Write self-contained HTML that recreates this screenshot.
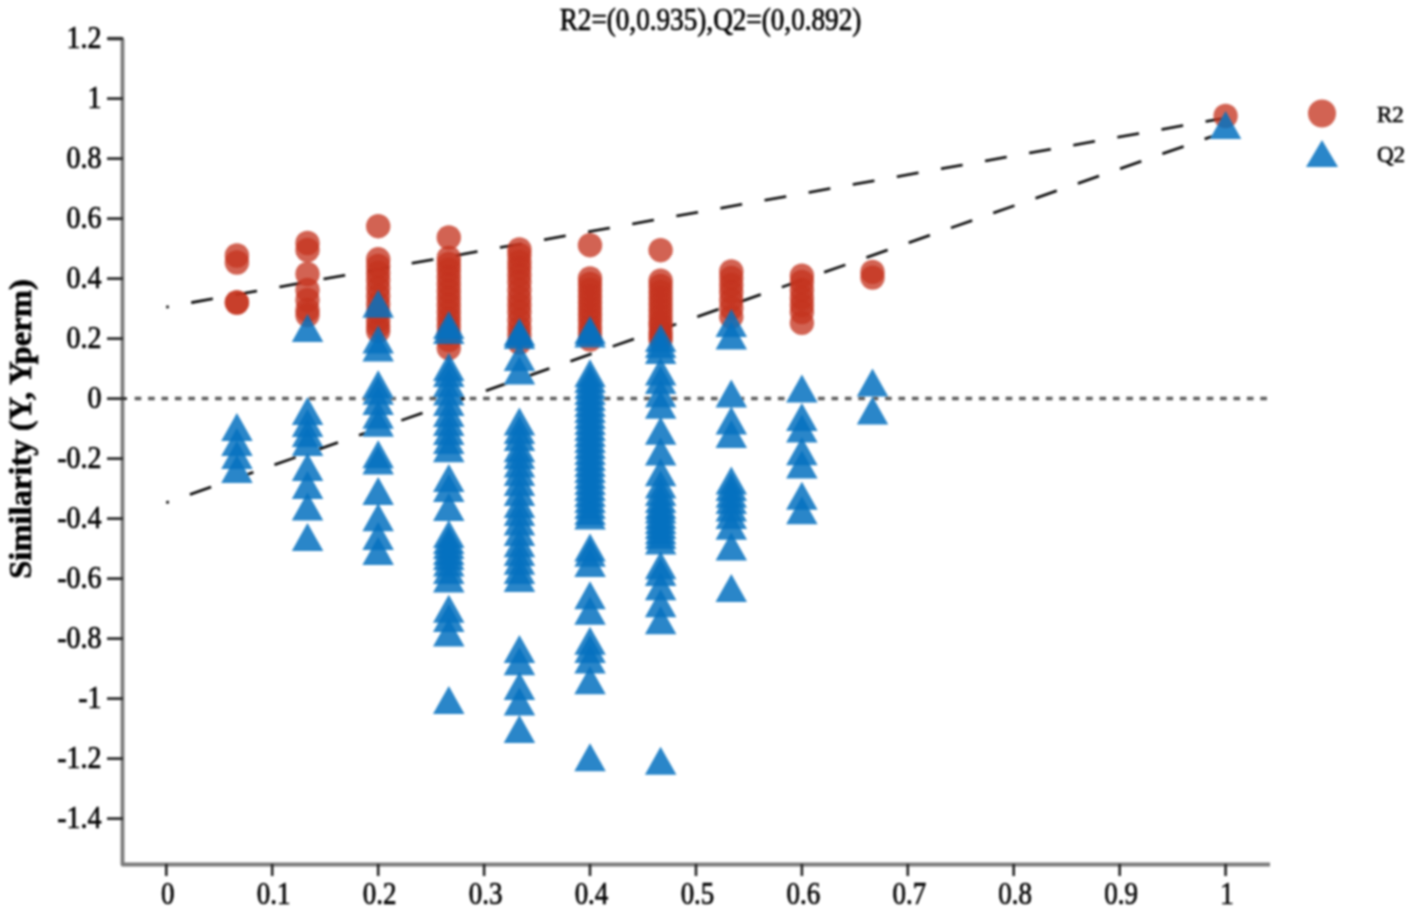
<!DOCTYPE html>
<html><head><meta charset="utf-8"><title>Permutation test</title>
<style>html,body{margin:0;padding:0;background:#fff;}svg{display:block;}#c{filter:blur(0.8px);width:1417px;height:916px;}text{stroke:#000;stroke-width:0.6px;}</style>
</head><body>
<div id="c"><svg width="1417" height="916" viewBox="0 0 1417 916"><path d="M108 38.6 H121 Q122.5 38.6 122.5 40.1 V864.5 H1270" fill="none" stroke="#7a7a7a" stroke-width="3.8" stroke-linejoin="round"/>
<path d="M107 818.6H123M107 758.6H123M107 698.6H123M107 638.6H123M107 578.6H123M107 518.6H123M107 458.6H123M107 398.6H123M107 338.6H123M107 278.6H123M107 218.6H123M107 158.6H123M107 98.6H123M107 38.6H123" stroke="#2a2a2a" stroke-width="2.8"/>
<g font-family="Liberation Serif, serif" font-size="28" text-anchor="end" fill="#000"><text transform="translate(101.5 827.9) scale(1 1.16)">-1.4</text><text transform="translate(101.5 767.9) scale(1 1.16)">-1.2</text><text transform="translate(101.5 707.9) scale(1 1.16)">-1</text><text transform="translate(101.5 647.9) scale(1 1.16)">-0.8</text><text transform="translate(101.5 587.9) scale(1 1.16)">-0.6</text><text transform="translate(101.5 527.9) scale(1 1.16)">-0.4</text><text transform="translate(101.5 467.9) scale(1 1.16)">-0.2</text><text transform="translate(101.5 407.9) scale(1 1.16)">0</text><text transform="translate(101.5 347.9) scale(1 1.16)">0.2</text><text transform="translate(101.5 287.9) scale(1 1.16)">0.4</text><text transform="translate(101.5 227.9) scale(1 1.16)">0.6</text><text transform="translate(101.5 167.9) scale(1 1.16)">0.8</text><text transform="translate(101.5 107.9) scale(1 1.16)">1</text><text transform="translate(101.5 47.9) scale(1 1.16)">1.2</text></g>
<path d="M166.3 864V876M272.2 864V876M378.2 864V876M484.1 864V876M590.0 864V876M696.0 864V876M801.9 864V876M907.8 864V876M1013.7 864V876M1119.7 864V876M1225.6 864V876" stroke="#222" stroke-width="2.6"/>
<g font-family="Liberation Serif, serif" font-size="27" text-anchor="middle" fill="#000"><text transform="translate(167.8 903.5) scale(1 1.16)">0</text><text transform="translate(273.7 903.5) scale(1 1.16)">0.1</text><text transform="translate(379.7 903.5) scale(1 1.16)">0.2</text><text transform="translate(485.6 903.5) scale(1 1.16)">0.3</text><text transform="translate(591.5 903.5) scale(1 1.16)">0.4</text><text transform="translate(697.5 903.5) scale(1 1.16)">0.5</text><text transform="translate(803.4 903.5) scale(1 1.16)">0.6</text><text transform="translate(909.3 903.5) scale(1 1.16)">0.7</text><text transform="translate(1015.2 903.5) scale(1 1.16)">0.8</text><text transform="translate(1121.2 903.5) scale(1 1.16)">0.9</text><text transform="translate(1227.1 903.5) scale(1 1.16)">1</text></g>
<line x1="134.7" y1="398.5" x2="1269" y2="398.5" stroke="#5a5a5a" stroke-width="3.6" stroke-dasharray="6.6 6.8"/><path d="M122 398.6H127" stroke="#2a2a2a" stroke-width="2.8"/>
<line x1="166.3" y1="307.1" x2="1225.6" y2="118" stroke="#000" stroke-width="2.6" stroke-dasharray="22 22.8" stroke-dashoffset="19.5"/>
<line x1="166.3" y1="502.7" x2="1225.6" y2="131.7" stroke="#000" stroke-width="2.6" stroke-dasharray="22.5 22.3" stroke-dashoffset="19.8"/>
<path fill="#fff" d="M236.9 413.0L252.7 441.0H221.2ZM236.9 428.0L252.7 456.0H221.2ZM236.9 441.0L252.7 469.0H221.2ZM236.9 455.0L252.7 483.0H221.2ZM307.5 314.0L323.3 342.0H291.8ZM307.5 397.0L323.3 425.0H291.8ZM307.5 409.0L323.3 437.0H291.8ZM307.5 419.0L323.3 447.0H291.8ZM307.5 428.0L323.3 456.0H291.8ZM307.5 453.0L323.3 481.0H291.8ZM307.5 471.0L323.3 499.0H291.8ZM307.5 492.5L323.3 520.5H291.8ZM307.5 523.0L323.3 551.0H291.8ZM378.2 289.8L393.9 317.8H362.4ZM378.2 325.5L393.9 353.5H362.4ZM378.2 333.5L393.9 361.5H362.4ZM378.2 370.3L393.9 398.3H362.4ZM378.2 376.7L393.9 404.7H362.4ZM378.2 387.0L393.9 415.0H362.4ZM378.2 400.8L393.9 428.8H362.4ZM378.2 408.8L393.9 436.8H362.4ZM378.2 440.2L393.9 468.2H362.4ZM378.2 446.6L393.9 474.6H362.4ZM378.2 477.0L393.9 505.0H362.4ZM378.2 503.3L393.9 531.3H362.4ZM378.2 522.0L393.9 550.0H362.4ZM378.2 537.0L393.9 565.0H362.4ZM448.8 311.0L464.5 339.0H433.0ZM448.8 316.0L464.5 344.0H433.0ZM448.8 353.0L464.5 381.0H433.0ZM448.8 359.0L464.5 387.0H433.0ZM448.8 369.0L464.5 397.0H433.0ZM448.8 377.5L464.5 405.5H433.0ZM448.8 388.0L464.5 416.0H433.0ZM448.8 399.0L464.5 427.0H433.0ZM448.8 408.0L464.5 436.0H433.0ZM448.8 417.0L464.5 445.0H433.0ZM448.8 426.0L464.5 454.0H433.0ZM448.8 434.3L464.5 462.3H433.0ZM448.8 464.0L464.5 492.0H433.0ZM448.8 474.0L464.5 502.0H433.0ZM448.8 493.0L464.5 521.0H433.0ZM448.8 520.0L464.5 548.0H433.0ZM448.8 526.0L464.5 554.0H433.0ZM448.8 531.0L464.5 559.0H433.0ZM448.8 537.0L464.5 565.0H433.0ZM448.8 542.0L464.5 570.0H433.0ZM448.8 548.5L464.5 576.5H433.0ZM448.8 556.0L464.5 584.0H433.0ZM448.8 564.5L464.5 592.5H433.0ZM448.8 594.8L464.5 622.8H433.0ZM448.8 604.0L464.5 632.0H433.0ZM448.8 618.4L464.5 646.4H433.0ZM448.8 686.0L464.5 714.0H433.0ZM519.4 318.0L535.2 346.0H503.7ZM519.4 321.0L535.2 349.0H503.7ZM519.4 343.0L535.2 371.0H503.7ZM519.4 356.5L535.2 384.5H503.7ZM519.4 407.6L535.2 435.6H503.7ZM519.4 416.0L535.2 444.0H503.7ZM519.4 423.0L535.2 451.0H503.7ZM519.4 434.2L535.2 462.2H503.7ZM519.4 441.0L535.2 469.0H503.7ZM519.4 449.5L535.2 477.5H503.7ZM519.4 458.0L535.2 486.0H503.7ZM519.4 468.1L535.2 496.1H503.7ZM519.4 478.0L535.2 506.0H503.7ZM519.4 489.9L535.2 517.9H503.7ZM519.4 498.0L535.2 526.0H503.7ZM519.4 507.4L535.2 535.4H503.7ZM519.4 518.0L535.2 546.0H503.7ZM519.4 529.2L535.2 557.2H503.7ZM519.4 538.0L535.2 566.0H503.7ZM519.4 546.7L535.2 574.7H503.7ZM519.4 556.0L535.2 584.0H503.7ZM519.4 564.1L535.2 592.1H503.7ZM519.4 635.0L535.2 663.0H503.7ZM519.4 647.3L535.2 675.3H503.7ZM519.4 672.0L535.2 700.0H503.7ZM519.4 687.6L535.2 715.6H503.7ZM519.4 715.0L535.2 743.0H503.7ZM590.0 316.0L605.8 344.0H574.3ZM590.0 319.4L605.8 347.4H574.3ZM590.0 359.3L605.8 387.3H574.3ZM590.0 365.0L605.8 393.0H574.3ZM590.0 371.0L605.8 399.0H574.3ZM590.0 377.0L605.8 405.0H574.3ZM590.0 383.0L605.8 411.0H574.3ZM590.0 389.0L605.8 417.0H574.3ZM590.0 395.0L605.8 423.0H574.3ZM590.0 401.0L605.8 429.0H574.3ZM590.0 407.0L605.8 435.0H574.3ZM590.0 413.0L605.8 441.0H574.3ZM590.0 419.0L605.8 447.0H574.3ZM590.0 425.0L605.8 453.0H574.3ZM590.0 431.0L605.8 459.0H574.3ZM590.0 437.0L605.8 465.0H574.3ZM590.0 443.0L605.8 471.0H574.3ZM590.0 449.0L605.8 477.0H574.3ZM590.0 455.0L605.8 483.0H574.3ZM590.0 461.0L605.8 489.0H574.3ZM590.0 467.0L605.8 495.0H574.3ZM590.0 473.0L605.8 501.0H574.3ZM590.0 479.0L605.8 507.0H574.3ZM590.0 485.0L605.8 513.0H574.3ZM590.0 491.0L605.8 519.0H574.3ZM590.0 497.0L605.8 525.0H574.3ZM590.0 501.4L605.8 529.4H574.3ZM590.0 533.5L605.8 561.5H574.3ZM590.0 538.7L605.8 566.7H574.3ZM590.0 549.0L605.8 577.0H574.3ZM590.0 581.2L605.8 609.2H574.3ZM590.0 596.7L605.8 624.7H574.3ZM590.0 626.8L605.8 654.8H574.3ZM590.0 635.0L605.8 663.0H574.3ZM590.0 645.5L605.8 673.5H574.3ZM590.0 666.2L605.8 694.2H574.3ZM590.0 743.2L605.8 771.2H574.3ZM660.6 324.0L676.4 352.0H644.9ZM660.6 330.0L676.4 358.0H644.9ZM660.6 336.1L676.4 364.1H644.9ZM660.6 357.6L676.4 385.6H644.9ZM660.6 365.9L676.4 393.9H644.9ZM660.6 379.3L676.4 407.3H644.9ZM660.6 390.7L676.4 418.7H644.9ZM660.6 416.7L676.4 444.7H644.9ZM660.6 437.4L676.4 465.4H644.9ZM660.6 458.2L676.4 486.2H644.9ZM660.6 470.6L676.4 498.6H644.9ZM660.6 478.0L676.4 506.0H644.9ZM660.6 485.1L676.4 513.1H644.9ZM660.6 491.0L676.4 519.0H644.9ZM660.6 495.5L676.4 523.5H644.9ZM660.6 501.0L676.4 529.0H644.9ZM660.6 505.9L676.4 533.9H644.9ZM660.6 511.0L676.4 539.0H644.9ZM660.6 516.2L676.4 544.2H644.9ZM660.6 521.0L676.4 549.0H644.9ZM660.6 526.6L676.4 554.6H644.9ZM660.6 551.3L676.4 579.3H644.9ZM660.6 558.0L676.4 586.0H644.9ZM660.6 572.3L676.4 600.3H644.9ZM660.6 589.3L676.4 617.3H644.9ZM660.6 606.3L676.4 634.3H644.9ZM660.6 746.7L676.4 774.7H644.9ZM731.3 309.1L747.0 337.1H715.5ZM731.3 321.6L747.0 349.6H715.5ZM731.3 379.6L747.0 407.6H715.5ZM731.3 406.4L747.0 434.4H715.5ZM731.3 420.1L747.0 448.1H715.5ZM731.3 466.5L747.0 494.5H715.5ZM731.3 473.0L747.0 501.0H715.5ZM731.3 479.7L747.0 507.7H715.5ZM731.3 486.0L747.0 514.0H715.5ZM731.3 493.5L747.0 521.5H715.5ZM731.3 501.0L747.0 529.0H715.5ZM731.3 511.8L747.0 539.8H715.5ZM731.3 532.5L747.0 560.5H715.5ZM731.3 574.0L747.0 602.0H715.5ZM801.9 374.5L817.6 402.5H786.1ZM801.9 403.1L817.6 431.1H786.1ZM801.9 414.4L817.6 442.4H786.1ZM801.9 437.3L817.6 465.3H786.1ZM801.9 450.4L817.6 478.4H786.1ZM801.9 481.7L817.6 509.7H786.1ZM801.9 496.3L817.6 524.3H786.1ZM872.5 368.6L888.2 396.6H856.8ZM872.5 396.6L888.2 424.6H856.8ZM1225.6 111.0L1241.3 139.0H1209.8Z"/>
<g fill="#c5341f" fill-opacity="0.77"><circle cx="236.9" cy="255.5" r="12.2"/><circle cx="236.9" cy="262.5" r="12.2"/><circle cx="236.9" cy="302.5" r="12.2"/><circle cx="236.9" cy="302.5" r="12.2"/><circle cx="307.5" cy="243.0" r="12.2"/><circle cx="307.5" cy="250.0" r="12.2"/><circle cx="307.5" cy="274.0" r="12.2"/><circle cx="307.5" cy="290.0" r="12.2"/><circle cx="307.5" cy="300.0" r="12.2"/><circle cx="307.5" cy="310.0" r="12.2"/><circle cx="307.5" cy="315.0" r="12.2"/><circle cx="378.2" cy="226.2" r="12.2"/><circle cx="378.2" cy="259.3" r="12.2"/><circle cx="378.2" cy="266.0" r="12.2"/><circle cx="378.2" cy="273.0" r="12.2"/><circle cx="378.2" cy="280.0" r="12.2"/><circle cx="378.2" cy="288.0" r="12.2"/><circle cx="378.2" cy="296.0" r="12.2"/><circle cx="378.2" cy="304.0" r="12.2"/><circle cx="378.2" cy="312.0" r="12.2"/><circle cx="378.2" cy="320.0" r="12.2"/><circle cx="378.2" cy="326.0" r="12.2"/><circle cx="378.2" cy="331.0" r="12.2"/><circle cx="448.8" cy="237.5" r="12.2"/><circle cx="448.8" cy="258.0" r="12.2"/><circle cx="448.8" cy="264.0" r="12.2"/><circle cx="448.8" cy="270.0" r="12.2"/><circle cx="448.8" cy="277.0" r="12.2"/><circle cx="448.8" cy="284.0" r="12.2"/><circle cx="448.8" cy="291.0" r="12.2"/><circle cx="448.8" cy="298.0" r="12.2"/><circle cx="448.8" cy="305.0" r="12.2"/><circle cx="448.8" cy="312.0" r="12.2"/><circle cx="448.8" cy="319.0" r="12.2"/><circle cx="448.8" cy="326.0" r="12.2"/><circle cx="448.8" cy="333.0" r="12.2"/><circle cx="448.8" cy="340.0" r="12.2"/><circle cx="448.8" cy="348.0" r="12.2"/><circle cx="519.4" cy="249.5" r="12.2"/><circle cx="519.4" cy="255.0" r="12.2"/><circle cx="519.4" cy="262.0" r="12.2"/><circle cx="519.4" cy="268.0" r="12.2"/><circle cx="519.4" cy="275.0" r="12.2"/><circle cx="519.4" cy="282.0" r="12.2"/><circle cx="519.4" cy="290.0" r="12.2"/><circle cx="519.4" cy="298.0" r="12.2"/><circle cx="519.4" cy="305.0" r="12.2"/><circle cx="519.4" cy="312.0" r="12.2"/><circle cx="519.4" cy="320.0" r="12.2"/><circle cx="519.4" cy="328.0" r="12.2"/><circle cx="519.4" cy="335.0" r="12.2"/><circle cx="519.4" cy="342.5" r="12.2"/><circle cx="590.0" cy="245.2" r="12.2"/><circle cx="590.0" cy="278.5" r="12.2"/><circle cx="590.0" cy="284.0" r="12.2"/><circle cx="590.0" cy="290.0" r="12.2"/><circle cx="590.0" cy="296.0" r="12.2"/><circle cx="590.0" cy="302.0" r="12.2"/><circle cx="590.0" cy="308.0" r="12.2"/><circle cx="590.0" cy="314.0" r="12.2"/><circle cx="590.0" cy="320.0" r="12.2"/><circle cx="590.0" cy="327.0" r="12.2"/><circle cx="590.0" cy="333.0" r="12.2"/><circle cx="590.0" cy="339.5" r="12.2"/><circle cx="660.6" cy="250.2" r="12.2"/><circle cx="660.6" cy="280.6" r="12.2"/><circle cx="660.6" cy="286.0" r="12.2"/><circle cx="660.6" cy="292.0" r="12.2"/><circle cx="660.6" cy="298.0" r="12.2"/><circle cx="660.6" cy="304.0" r="12.2"/><circle cx="660.6" cy="310.0" r="12.2"/><circle cx="660.6" cy="316.0" r="12.2"/><circle cx="660.6" cy="322.0" r="12.2"/><circle cx="660.6" cy="326.0" r="12.2"/><circle cx="660.6" cy="332.0" r="12.2"/><circle cx="660.6" cy="336.0" r="12.2"/><circle cx="660.6" cy="340.0" r="12.2"/><circle cx="731.3" cy="271.5" r="12.2"/><circle cx="731.3" cy="278.0" r="12.2"/><circle cx="731.3" cy="285.0" r="12.2"/><circle cx="731.3" cy="292.0" r="12.2"/><circle cx="731.3" cy="300.0" r="12.2"/><circle cx="731.3" cy="308.0" r="12.2"/><circle cx="731.3" cy="316.8" r="12.2"/><circle cx="801.9" cy="275.7" r="12.2"/><circle cx="801.9" cy="282.0" r="12.2"/><circle cx="801.9" cy="290.0" r="12.2"/><circle cx="801.9" cy="298.0" r="12.2"/><circle cx="801.9" cy="305.0" r="12.2"/><circle cx="801.9" cy="312.0" r="12.2"/><circle cx="801.9" cy="322.9" r="12.2"/><circle cx="872.5" cy="271.9" r="12.2"/><circle cx="872.5" cy="277.6" r="12.2"/><circle cx="1225.6" cy="116.0" r="12.2"/></g>
<g fill="#0571c0" fill-opacity="0.85"><path d="M236.9 413.0L252.7 441.0H221.2Z"/><path d="M236.9 428.0L252.7 456.0H221.2Z"/><path d="M236.9 441.0L252.7 469.0H221.2Z"/><path d="M236.9 455.0L252.7 483.0H221.2Z"/><path d="M307.5 314.0L323.3 342.0H291.8Z"/><path d="M307.5 397.0L323.3 425.0H291.8Z"/><path d="M307.5 409.0L323.3 437.0H291.8Z"/><path d="M307.5 419.0L323.3 447.0H291.8Z"/><path d="M307.5 428.0L323.3 456.0H291.8Z"/><path d="M307.5 453.0L323.3 481.0H291.8Z"/><path d="M307.5 471.0L323.3 499.0H291.8Z"/><path d="M307.5 492.5L323.3 520.5H291.8Z"/><path d="M307.5 523.0L323.3 551.0H291.8Z"/><path d="M378.2 289.8L393.9 317.8H362.4Z"/><path d="M378.2 325.5L393.9 353.5H362.4Z"/><path d="M378.2 333.5L393.9 361.5H362.4Z"/><path d="M378.2 370.3L393.9 398.3H362.4Z"/><path d="M378.2 376.7L393.9 404.7H362.4Z"/><path d="M378.2 387.0L393.9 415.0H362.4Z"/><path d="M378.2 400.8L393.9 428.8H362.4Z"/><path d="M378.2 408.8L393.9 436.8H362.4Z"/><path d="M378.2 440.2L393.9 468.2H362.4Z"/><path d="M378.2 446.6L393.9 474.6H362.4Z"/><path d="M378.2 477.0L393.9 505.0H362.4Z"/><path d="M378.2 503.3L393.9 531.3H362.4Z"/><path d="M378.2 522.0L393.9 550.0H362.4Z"/><path d="M378.2 537.0L393.9 565.0H362.4Z"/><path d="M448.8 311.0L464.5 339.0H433.0Z"/><path d="M448.8 316.0L464.5 344.0H433.0Z"/><path d="M448.8 353.0L464.5 381.0H433.0Z"/><path d="M448.8 359.0L464.5 387.0H433.0Z"/><path d="M448.8 369.0L464.5 397.0H433.0Z"/><path d="M448.8 377.5L464.5 405.5H433.0Z"/><path d="M448.8 388.0L464.5 416.0H433.0Z"/><path d="M448.8 399.0L464.5 427.0H433.0Z"/><path d="M448.8 408.0L464.5 436.0H433.0Z"/><path d="M448.8 417.0L464.5 445.0H433.0Z"/><path d="M448.8 426.0L464.5 454.0H433.0Z"/><path d="M448.8 434.3L464.5 462.3H433.0Z"/><path d="M448.8 464.0L464.5 492.0H433.0Z"/><path d="M448.8 474.0L464.5 502.0H433.0Z"/><path d="M448.8 493.0L464.5 521.0H433.0Z"/><path d="M448.8 520.0L464.5 548.0H433.0Z"/><path d="M448.8 526.0L464.5 554.0H433.0Z"/><path d="M448.8 531.0L464.5 559.0H433.0Z"/><path d="M448.8 537.0L464.5 565.0H433.0Z"/><path d="M448.8 542.0L464.5 570.0H433.0Z"/><path d="M448.8 548.5L464.5 576.5H433.0Z"/><path d="M448.8 556.0L464.5 584.0H433.0Z"/><path d="M448.8 564.5L464.5 592.5H433.0Z"/><path d="M448.8 594.8L464.5 622.8H433.0Z"/><path d="M448.8 604.0L464.5 632.0H433.0Z"/><path d="M448.8 618.4L464.5 646.4H433.0Z"/><path d="M448.8 686.0L464.5 714.0H433.0Z"/><path d="M519.4 318.0L535.2 346.0H503.7Z"/><path d="M519.4 321.0L535.2 349.0H503.7Z"/><path d="M519.4 343.0L535.2 371.0H503.7Z"/><path d="M519.4 356.5L535.2 384.5H503.7Z"/><path d="M519.4 407.6L535.2 435.6H503.7Z"/><path d="M519.4 416.0L535.2 444.0H503.7Z"/><path d="M519.4 423.0L535.2 451.0H503.7Z"/><path d="M519.4 434.2L535.2 462.2H503.7Z"/><path d="M519.4 441.0L535.2 469.0H503.7Z"/><path d="M519.4 449.5L535.2 477.5H503.7Z"/><path d="M519.4 458.0L535.2 486.0H503.7Z"/><path d="M519.4 468.1L535.2 496.1H503.7Z"/><path d="M519.4 478.0L535.2 506.0H503.7Z"/><path d="M519.4 489.9L535.2 517.9H503.7Z"/><path d="M519.4 498.0L535.2 526.0H503.7Z"/><path d="M519.4 507.4L535.2 535.4H503.7Z"/><path d="M519.4 518.0L535.2 546.0H503.7Z"/><path d="M519.4 529.2L535.2 557.2H503.7Z"/><path d="M519.4 538.0L535.2 566.0H503.7Z"/><path d="M519.4 546.7L535.2 574.7H503.7Z"/><path d="M519.4 556.0L535.2 584.0H503.7Z"/><path d="M519.4 564.1L535.2 592.1H503.7Z"/><path d="M519.4 635.0L535.2 663.0H503.7Z"/><path d="M519.4 647.3L535.2 675.3H503.7Z"/><path d="M519.4 672.0L535.2 700.0H503.7Z"/><path d="M519.4 687.6L535.2 715.6H503.7Z"/><path d="M519.4 715.0L535.2 743.0H503.7Z"/><path d="M590.0 316.0L605.8 344.0H574.3Z"/><path d="M590.0 319.4L605.8 347.4H574.3Z"/><path d="M590.0 359.3L605.8 387.3H574.3Z"/><path d="M590.0 365.0L605.8 393.0H574.3Z"/><path d="M590.0 371.0L605.8 399.0H574.3Z"/><path d="M590.0 377.0L605.8 405.0H574.3Z"/><path d="M590.0 383.0L605.8 411.0H574.3Z"/><path d="M590.0 389.0L605.8 417.0H574.3Z"/><path d="M590.0 395.0L605.8 423.0H574.3Z"/><path d="M590.0 401.0L605.8 429.0H574.3Z"/><path d="M590.0 407.0L605.8 435.0H574.3Z"/><path d="M590.0 413.0L605.8 441.0H574.3Z"/><path d="M590.0 419.0L605.8 447.0H574.3Z"/><path d="M590.0 425.0L605.8 453.0H574.3Z"/><path d="M590.0 431.0L605.8 459.0H574.3Z"/><path d="M590.0 437.0L605.8 465.0H574.3Z"/><path d="M590.0 443.0L605.8 471.0H574.3Z"/><path d="M590.0 449.0L605.8 477.0H574.3Z"/><path d="M590.0 455.0L605.8 483.0H574.3Z"/><path d="M590.0 461.0L605.8 489.0H574.3Z"/><path d="M590.0 467.0L605.8 495.0H574.3Z"/><path d="M590.0 473.0L605.8 501.0H574.3Z"/><path d="M590.0 479.0L605.8 507.0H574.3Z"/><path d="M590.0 485.0L605.8 513.0H574.3Z"/><path d="M590.0 491.0L605.8 519.0H574.3Z"/><path d="M590.0 497.0L605.8 525.0H574.3Z"/><path d="M590.0 501.4L605.8 529.4H574.3Z"/><path d="M590.0 533.5L605.8 561.5H574.3Z"/><path d="M590.0 538.7L605.8 566.7H574.3Z"/><path d="M590.0 549.0L605.8 577.0H574.3Z"/><path d="M590.0 581.2L605.8 609.2H574.3Z"/><path d="M590.0 596.7L605.8 624.7H574.3Z"/><path d="M590.0 626.8L605.8 654.8H574.3Z"/><path d="M590.0 635.0L605.8 663.0H574.3Z"/><path d="M590.0 645.5L605.8 673.5H574.3Z"/><path d="M590.0 666.2L605.8 694.2H574.3Z"/><path d="M590.0 743.2L605.8 771.2H574.3Z"/><path d="M660.6 324.0L676.4 352.0H644.9Z"/><path d="M660.6 330.0L676.4 358.0H644.9Z"/><path d="M660.6 336.1L676.4 364.1H644.9Z"/><path d="M660.6 357.6L676.4 385.6H644.9Z"/><path d="M660.6 365.9L676.4 393.9H644.9Z"/><path d="M660.6 379.3L676.4 407.3H644.9Z"/><path d="M660.6 390.7L676.4 418.7H644.9Z"/><path d="M660.6 416.7L676.4 444.7H644.9Z"/><path d="M660.6 437.4L676.4 465.4H644.9Z"/><path d="M660.6 458.2L676.4 486.2H644.9Z"/><path d="M660.6 470.6L676.4 498.6H644.9Z"/><path d="M660.6 478.0L676.4 506.0H644.9Z"/><path d="M660.6 485.1L676.4 513.1H644.9Z"/><path d="M660.6 491.0L676.4 519.0H644.9Z"/><path d="M660.6 495.5L676.4 523.5H644.9Z"/><path d="M660.6 501.0L676.4 529.0H644.9Z"/><path d="M660.6 505.9L676.4 533.9H644.9Z"/><path d="M660.6 511.0L676.4 539.0H644.9Z"/><path d="M660.6 516.2L676.4 544.2H644.9Z"/><path d="M660.6 521.0L676.4 549.0H644.9Z"/><path d="M660.6 526.6L676.4 554.6H644.9Z"/><path d="M660.6 551.3L676.4 579.3H644.9Z"/><path d="M660.6 558.0L676.4 586.0H644.9Z"/><path d="M660.6 572.3L676.4 600.3H644.9Z"/><path d="M660.6 589.3L676.4 617.3H644.9Z"/><path d="M660.6 606.3L676.4 634.3H644.9Z"/><path d="M660.6 746.7L676.4 774.7H644.9Z"/><path d="M731.3 309.1L747.0 337.1H715.5Z"/><path d="M731.3 321.6L747.0 349.6H715.5Z"/><path d="M731.3 379.6L747.0 407.6H715.5Z"/><path d="M731.3 406.4L747.0 434.4H715.5Z"/><path d="M731.3 420.1L747.0 448.1H715.5Z"/><path d="M731.3 466.5L747.0 494.5H715.5Z"/><path d="M731.3 473.0L747.0 501.0H715.5Z"/><path d="M731.3 479.7L747.0 507.7H715.5Z"/><path d="M731.3 486.0L747.0 514.0H715.5Z"/><path d="M731.3 493.5L747.0 521.5H715.5Z"/><path d="M731.3 501.0L747.0 529.0H715.5Z"/><path d="M731.3 511.8L747.0 539.8H715.5Z"/><path d="M731.3 532.5L747.0 560.5H715.5Z"/><path d="M731.3 574.0L747.0 602.0H715.5Z"/><path d="M801.9 374.5L817.6 402.5H786.1Z"/><path d="M801.9 403.1L817.6 431.1H786.1Z"/><path d="M801.9 414.4L817.6 442.4H786.1Z"/><path d="M801.9 437.3L817.6 465.3H786.1Z"/><path d="M801.9 450.4L817.6 478.4H786.1Z"/><path d="M801.9 481.7L817.6 509.7H786.1Z"/><path d="M801.9 496.3L817.6 524.3H786.1Z"/><path d="M872.5 368.6L888.2 396.6H856.8Z"/><path d="M872.5 396.6L888.2 424.6H856.8Z"/><path d="M1225.6 111.0L1241.3 139.0H1209.8Z"/></g>
<text transform="translate(710.5 30) scale(1 1.16)" text-anchor="middle" font-family="Liberation Serif, serif" font-size="27.2" fill="#000">R2=(0,0.935),Q2=(0,0.892)</text>
<text transform="translate(31 429) rotate(-90)" text-anchor="middle" font-family="Liberation Serif, serif" font-weight="bold" font-size="32.6" fill="#000">Similarity (Y, Yperm)</text>
<circle cx="1322" cy="113.5" r="14" fill="#c5341f" fill-opacity="0.77"/>
<path d="M1322 140 L1338 167 H1306Z" fill="#0571c0" fill-opacity="0.85"/>
<g font-family="Liberation Serif, serif" font-size="23" fill="#000"><text x="1377" y="122">R2</text><text x="1377" y="162">Q2</text></g></svg></div>
</body></html>
